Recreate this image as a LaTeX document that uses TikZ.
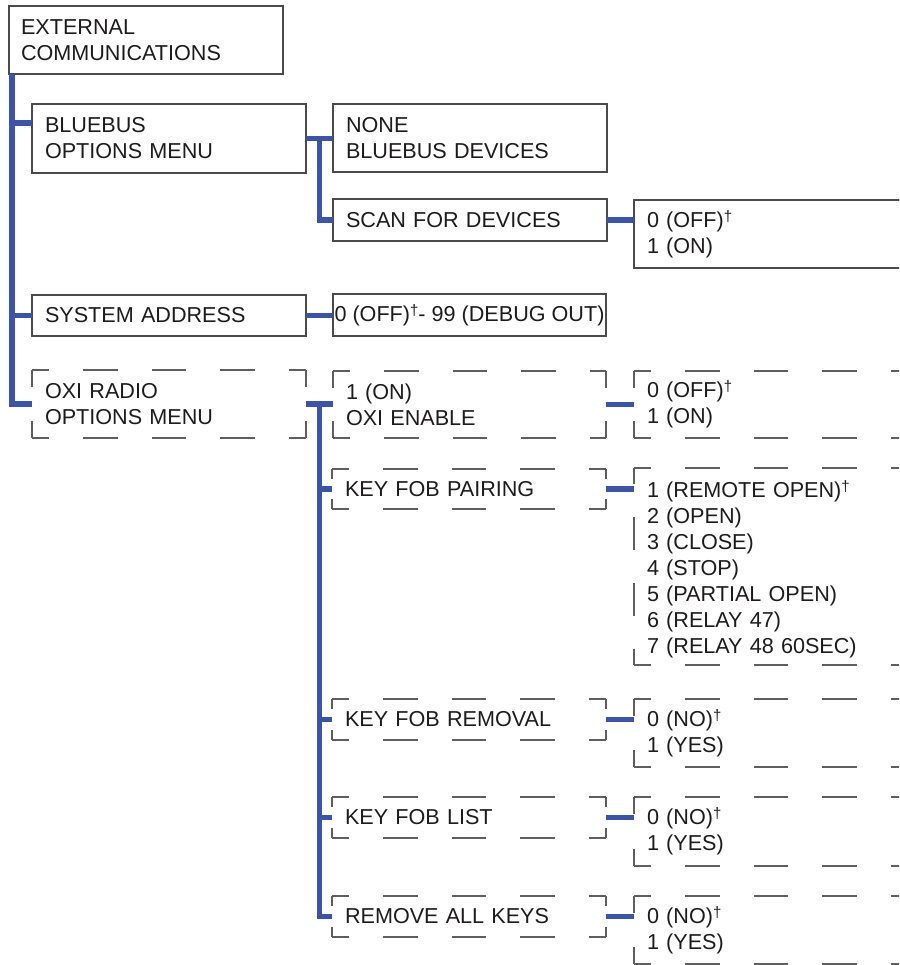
\documentclass[tikz,border=0pt]{standalone}
\usepackage{fontspec}
\setmainfont{Liberation Sans}
\usetikzlibrary{calc}
\definecolor{connblue}{RGB}{59,84,165}
\definecolor{txt}{RGB}{30,27,28}
\definecolor{bord}{RGB}{75,75,75}
\definecolor{dbord}{RGB}{95,95,95}
\newcommand\dg{\raisebox{6pt}{\fontsize{15}{15}\selectfont †}}
\newcommand\dashrect[3]{%
  \pgfmathsetmacro\hph{#2/2}\pgfmathsetmacro\vph{#3/2}%
  \draw[dline, dash pattern=on #2pt off #2pt, dash phase=\hph pt] (#1.north west) -- (#1.north east);
  \draw[dline, dash pattern=on #2pt off #2pt, dash phase=\hph pt] (#1.south west) -- (#1.south east);
  \draw[dline, dash pattern=on #3pt off #3pt, dash phase=\vph pt] (#1.north west) -- (#1.south west);
  \draw[dline, dash pattern=on #3pt off #3pt, dash phase=\vph pt] (#1.north east) -- (#1.south east);
}
\begin{document}
\begin{tikzpicture}[x=1pt,y=1pt,
  base/.style={rectangle, anchor=north west, inner xsep=13pt, inner ysep=0pt, outer sep=0pt,
    align=left, text=txt, font=\fontsize{21.6}{26}\selectfont},
  solidbox/.style={base, draw=bord, line width=1.1pt},
  dashbox/.style={base},
  link/.style={draw=connblue, line width=5.5pt},
  dline/.style={draw=dbord, line width=1.1pt}]
\useasboundingbox (0,0) rectangle (899,-965);
\begin{scope}
\clip (0,0) rectangle (899,-965);
% solid boxes
\node[solidbox, inner xsep=12pt, text width=250, minimum height=68] (ext) at (9,-6) {EXTERNAL\\COMMUNICATIONS};
\node[solidbox, text width=248, minimum height=69] (bb) at (32,-104) {BLUEBUS\\OPTIONS MENU};
\node[solidbox, text width=248, minimum height=68] (none) at (333,-104) {NONE\\BLUEBUS DEVICES};
\node[solidbox, text width=248, minimum height=42] (scan) at (333,-199) {SCAN FOR DEVICES};
\node[solidbox, text width=300, minimum height=68] (scanv) at (634,-200) {0 (OFF)\dg\\1 (ON)};
\node[solidbox, text width=248, minimum height=41] (sys) at (32,-295) {SYSTEM ADDRESS};
\node[solidbox, inner xsep=0pt, minimum width=273, minimum height=42] (sysv) at (333,-294) {0 (OFF)\dg- 99 (DEBUG OUT)};
% dashed boxes
\node[dashbox, text width=248, minimum height=68] (oxi) at (32,-370) {OXI RADIO\\OPTIONS MENU};
\node[dashbox, text width=247, minimum height=67] (en) at (333,-371) {1 (ON)\\OXI ENABLE};
\node[dashbox, text width=300, minimum height=67] (env) at (634,-371) {0 (OFF)\dg\\1 (ON)};
\node[dashbox, text width=248, minimum height=40] (kfp) at (332,-469) {KEY FOB PAIRING};
\node[dashbox, text width=300, minimum height=197] (kfpv) at (634,-468) {\rule{0pt}{22pt}1 (REMOTE OPEN)\dg\\2 (OPEN)\\3 (CLOSE)\\4 (STOP)\\5 (PARTIAL OPEN)\\6 (RELAY 47)\\7 (RELAY 48 60SEC)};
\node[dashbox, text width=248, minimum height=41] (kfr) at (332,-699) {KEY FOB REMOVAL};
\node[dashbox, text width=300, minimum height=68] (kfrv) at (634,-699) {0 (NO)\dg\\1 (YES)};
\node[dashbox, text width=248, minimum height=41] (kfl) at (332,-797) {KEY FOB LIST};
\node[dashbox, text width=300, minimum height=69] (kflv) at (634,-797) {0 (NO)\dg\\1 (YES)};
\node[dashbox, text width=248, minimum height=41] (rak) at (332,-896) {REMOVE ALL KEYS};
\node[dashbox, text width=300, minimum height=68] (rakv) at (634,-896) {0 (NO)\dg\\1 (YES)};
\dashrect{oxi}{34.25}{34}
\dashrect{en}{34.25}{33.5}
\dashrect{env}{34.25}{33.5}
\dashrect{kfp}{34.25}{20}
\dashrect{kfpv}{34.25}{32.83}
\dashrect{kfr}{34.25}{20.5}
\dashrect{kfrv}{34.25}{34}
\dashrect{kfl}{34.25}{20.5}
\dashrect{kflv}{34.25}{34.5}
\dashrect{rak}{34.25}{20.5}
\dashrect{rakv}{34.25}{34}
% connectors
\coordinate (trunk) at ($(ext.south west)+(3,0)$);
\coordinate (bbin) at ($(bb.north west)+(0,-19)$);
\draw[link] (trunk) |- (oxi.west);
\draw[link] (bbin -| trunk) -- (bbin);
\draw[link] (sys.west -| trunk) -- (sys.west);
\draw[link] (bb.east) -- (bb.east -| none.west);
\coordinate (v1) at ($(bb.east)!0.5!(none.west)$);
\draw[link] (v1) |- (scan.west);
\draw[link] (scan.east) -- (scan.east -| scanv.west);
\draw[link] (sys.east) -- (sys.east -| sysv.west);
\draw[link] (oxi.east) -- (oxi.east -| en.west);
\coordinate (v2) at ($(oxi.east)!0.5!(en.west)$);
\draw[link] (v2) |- (rak.west);
\draw[link] (kfp.west -| v2) -- (kfp.west);
\draw[link] (kfr.west -| v2) -- (kfr.west);
\draw[link] (kfl.west -| v2) -- (kfl.west);
\draw[link] (en.east) -- (en.east -| env.west);
\draw[link] (kfp.east) -- (kfp.east -| kfpv.west);
\draw[link] (kfr.east) -- (kfr.east -| kfrv.west);
\draw[link] (kfl.east) -- (kfl.east -| kflv.west);
\draw[link] (rak.east) -- (rak.east -| rakv.west);
\end{scope}
\end{tikzpicture}
\end{document}
